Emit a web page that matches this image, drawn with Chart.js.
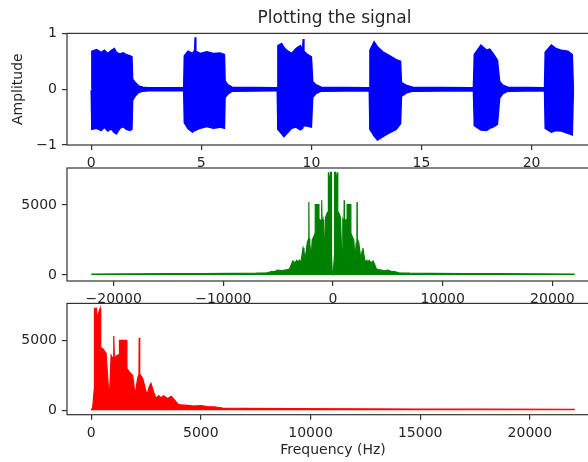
<!DOCTYPE html>
<html>
<head>
<meta charset="utf-8">
<script src="https://cdn.jsdelivr.net/npm/chart.js@4.4.1/dist/chart.umd.min.js"></script>
<style>
  body { margin: 0; background: #fff; overflow: hidden; }
  #wrap { position: relative; width: 588px; height: 462px; overflow: hidden; background: #fff; }
  #wrap canvas { position: absolute; left: 0; }
</style>
</head>
<body>
<div id="wrap">
  <canvas id="g_signal" width="604" height="180" style="top:0px"></canvas>
  <canvas id="g_fft" width="604" height="160" style="top:150px"></canvas>
  <canvas id="g_half" width="604" height="172" style="top:290px"></canvas>
</div>
<script>
// signal envelope (seconds, upper / lower amplitude)
var sigTime  = [0.00, 0.03, 0.25, 0.45, 0.60, 0.75, 0.90, 1.05, 1.15, 1.30, 1.45, 1.60, 1.75, 1.85, 1.88, 2.00, 2.15, 2.35, 2.60,
                4.15, 4.20, 4.23, 4.40, 4.60, 4.70, 4.72, 4.75, 4.95, 5.25, 5.55, 5.85, 6.05, 6.08, 6.20, 6.40,
                8.40, 8.45, 8.48, 8.65, 8.75, 8.90, 9.10, 9.30, 9.50, 9.60, 9.63, 9.66, 9.80, 10.00, 10.06, 10.20, 10.45,
                12.60, 12.63, 12.66, 12.85, 13.00, 13.25, 13.55, 13.85, 14.05, 14.09, 14.30, 14.60,
                17.33, 17.36, 17.40, 17.70, 17.95, 18.10, 18.25, 18.45, 18.55, 18.70, 18.92,
                20.56, 20.59, 20.62, 20.90, 21.10, 21.35, 21.65, 21.85, 21.90];
var sigUpper = [0.02, 0.68, 0.71, 0.66, 0.70, 0.64, 0.69, 0.73, 0.66, 0.63, 0.65, 0.62, 0.60, 0.58, 0.18, 0.12, 0.06, 0.035, 0.028,
                0.028, 0.03, 0.60, 0.68, 0.64, 0.70, 0.93, 0.68, 0.64, 0.67, 0.64, 0.65, 0.62, 0.15, 0.08, 0.035,
                0.028, 0.03, 0.78, 0.82, 0.75, 0.69, 0.64, 0.73, 0.78, 0.70, 0.90, 0.68, 0.63, 0.58, 0.14, 0.08, 0.035,
                0.028, 0.03, 0.70, 0.85, 0.76, 0.67, 0.60, 0.53, 0.50, 0.12, 0.07, 0.035,
                0.028, 0.03, 0.62, 0.79, 0.70, 0.72, 0.64, 0.52, 0.14, 0.07, 0.035,
                0.028, 0.03, 0.66, 0.79, 0.73, 0.70, 0.68, 0.62, 0.00];
var sigLower = [-0.02, -0.72, -0.70, -0.74, -0.68, -0.75, -0.71, -0.78, -0.80, -0.70, -0.67, -0.72, -0.74, -0.72, -0.20, -0.12, -0.06, -0.035, -0.028,
                -0.028, -0.03, -0.60, -0.71, -0.77, -0.74, -0.72, -0.73, -0.70, -0.67, -0.70, -0.68, -0.70, -0.15, -0.09, -0.035,
                -0.028, -0.03, -0.72, -0.80, -0.85, -0.79, -0.70, -0.68, -0.73, -0.70, -0.66, -0.65, -0.66, -0.68, -0.15, -0.08, -0.035,
                -0.028, -0.03, -0.72, -0.84, -0.91, -0.85, -0.78, -0.72, -0.62, -0.13, -0.07, -0.035,
                -0.028, -0.03, -0.65, -0.73, -0.74, -0.70, -0.68, -0.63, -0.16, -0.08, -0.035,
                -0.028, -0.03, -0.70, -0.77, -0.74, -0.75, -0.79, -0.82, 0.00];

// magnitude spectrum, positive half (Hz, |X|)
var specFreq = [0, 70, 140, 150, 240, 250, 300, 410, 430, 440, 530, 680, 760, 833, 880, 909, 1000, 1020, 1040, 1060,
                1136, 1280, 1290, 1620, 1630, 1742, 1894, 2000, 2120, 2180, 2190, 2210, 2220, 2348, 2460, 2545,
                2650, 2727, 2850, 2955, 3080, 3182, 3300, 3485, 3650, 3788, 3950, 4091, 4394, 4700, 5000, 5300,
                5606, 6000, 7000, 9000, 12000, 15000, 18000, 22050];
var specMag  = [0, 200, 1500, 7330, 7330, 6200, 6800, 7330, 7330, 4500, 4430, 4100, 2200, 860, 2800, 3950, 3700, 5330, 5330, 3600,
                3900, 4000, 5020, 5020, 3000, 2760, 2500, 1095, 2300, 2600, 5210, 5210, 2600, 2300, 1600, 1100,
                1700, 1930, 1300, 860, 1050, 900, 1050, 850, 1000, 760, 450, 380, 350, 300, 340, 260,
                250, 160, 130, 110, 100, 90, 80, 70];

var timeTicks = [0, 5, 10, 15, 20];
var ampTicks = [-1, 0, 1];
var fullTicks = [-20000, -10000, 0, 10000, 20000];
var freqTicks = [0, 5000, 10000, 15000, 20000];
var magTicks = [0, 5000];

var font = { family: 'DejaVu Sans', size: 14 };
var ink = '#262626';

function fmt(v) {
  return String(v).replace('-', '\u2212');
}

function pts(xs, ys) {
  return xs.map(function (x, i) { return { x: x, y: ys[i] }; });
}

var frame = {
  id: 'frame',
  afterDraw: function (chart) {
    var a = chart.chartArea, ctx = chart.ctx;
    ctx.save();
    ctx.strokeStyle = '#333';
    ctx.lineWidth = 1.2;
    ctx.strokeRect(a.left, a.top, a.right - a.left, a.bottom - a.top);
    ctx.restore();
  }
};

function axis(min, max, ticks, fit, title) {
  var o = {
    type: 'linear',
    min: min,
    max: max,
    afterBuildTicks: function (s) { s.ticks = ticks.map(function (v) { return { value: v }; }); },
    ticks: { autoSkip: false, maxRotation: 0, padding: 5, font: font, color: ink, callback: function (v) { return fmt(v); } },
    grid: { drawOnChartArea: false, tickLength: 5, color: '#333', lineWidth: 1.2 },
    border: { display: false },
    afterFit: fit
  };
  if (title) o.title = title;
  return o;
}

function baseOptions(pad) {
  return {
    responsive: false,
    animation: false,
    layout: { padding: pad },
    plugins: { legend: { display: false }, tooltip: { enabled: false }, title: { display: false } },
    elements: { point: { radius: 0 }, line: { tension: 0 } }
  };
}

// 1) signal in time
var opt1 = baseOptions({ top: 0, left: 0, right: 2, bottom: 0 });
opt1.plugins.title = {
  display: true, text: 'Plotting the signal', fullSize: false,
  font: { family: 'DejaVu Sans', size: 17, weight: 'normal' }, color: ink,
  padding: { top: 8, bottom: 5 }
};
opt1.scales = {
  x: axis(-1.1, 23.2, timeTicks, function (s) { s.height = 35; }),
  y: axis(-1, 1, ampTicks, function (s) { s.width = 67; },
    { display: true, text: 'Amplitude', font: font, color: ink, padding: { top: 10, bottom: 0 } })
};
new Chart(document.getElementById('g_signal'), {
  type: 'line',
  data: {
    datasets: [
      { data: pts(sigTime, sigUpper), borderColor: '#0000ff', backgroundColor: '#0000ff', borderWidth: 1.5, fill: '+1' },
      { data: pts(sigTime, sigLower), borderColor: '#0000ff', backgroundColor: '#0000ff', borderWidth: 1.5, fill: false }
    ]
  },
  options: opt1,
  plugins: [frame]
});

// 2) two-sided spectrum
var fullFreq = specFreq.slice().reverse().map(function (f) { return -f; }).concat(specFreq);
var fullMag = specMag.slice().reverse().concat(specMag);
var opt2 = baseOptions({ top: 18, left: 0, right: 5, bottom: 0 });
opt2.scales = {
  x: axis(-24255, 24255, fullTicks, function (s) { s.height = 29; }),
  y: axis(-430, 7640, magTicks, function (s) { s.width = 67; })
};
new Chart(document.getElementById('g_fft'), {
  type: 'line',
  data: {
    datasets: [
      { data: pts(fullFreq, fullMag), borderColor: '#008000', backgroundColor: '#008000', borderWidth: 1.2, fill: 'origin' }
    ]
  },
  options: opt2,
  plugins: [frame]
});

// 3) positive half of spectrum
var opt3 = baseOptions({ top: 13, left: 0, right: 5, bottom: 0 });
opt3.scales = {
  x: axis(-1102, 23152, freqTicks, function (s) { s.height = 47.3; },
    { display: true, text: 'Frequency (Hz)', font: font, color: ink, padding: { top: 0, bottom: 3 } }),
  y: axis(-320, 7680, magTicks, function (s) { s.width = 67; })
};
new Chart(document.getElementById('g_half'), {
  type: 'line',
  data: {
    datasets: [
      { data: pts(specFreq, specMag), borderColor: '#ff0000', backgroundColor: '#ff0000', borderWidth: 1.2, fill: 'origin' }
    ]
  },
  options: opt3,
  plugins: [frame]
});
</script>
</body>
</html>
